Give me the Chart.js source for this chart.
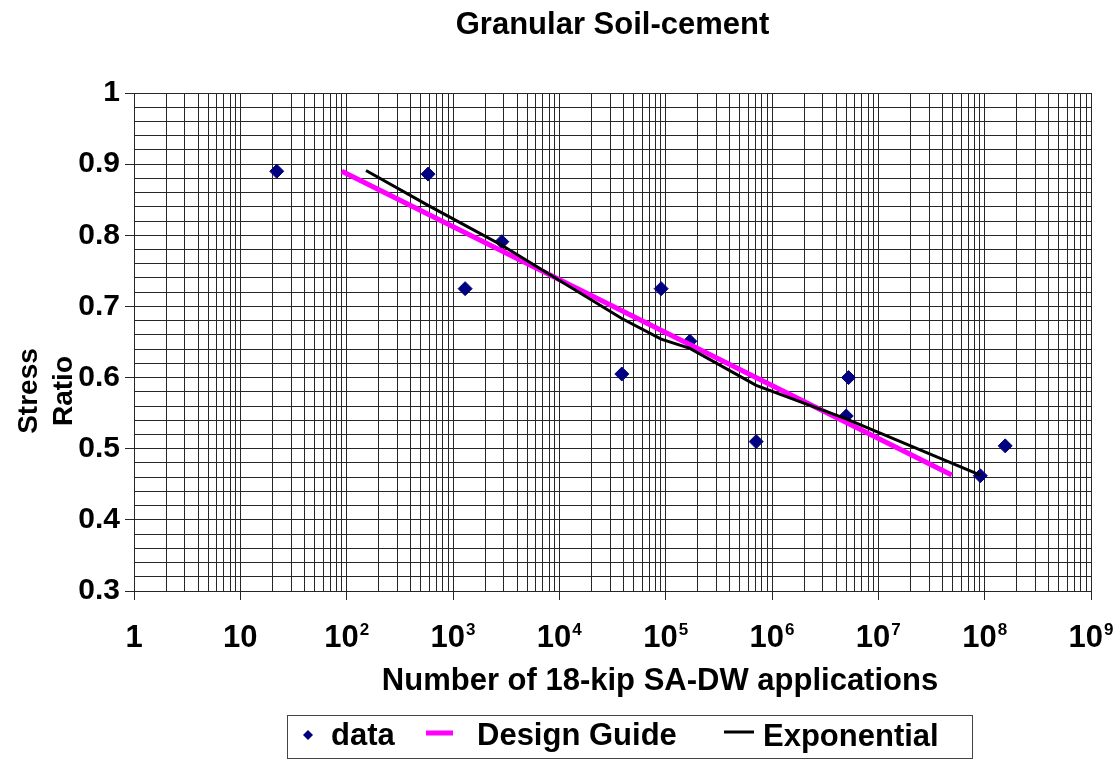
<!DOCTYPE html>
<html lang="en">
<head>
    <meta charset="UTF-8">
    <title>Granular Soil-cement</title>
    <script src="https://cdn.jsdelivr.net/npm/chart.js"></script>
    <style>
        html, body { margin: 0; padding: 0; background: #fff; }
        .chart-box { width: 1116px; height: 760px; }
    </style>
</head>
<body>
    <div class="chart-box">
        <canvas id="soilChart" width="1116" height="760"></canvas>
    </div>

    <script>
        // Fatigue test results: applications to failure vs stress ratio
        const dataApps  = [22, 583, 1300, 2880, 38700, 90700, 169000, 710000, 4990000, 5250000, 91000000, 156000000];
        const dataRatio = [0.890, 0.886, 0.725, 0.791, 0.605, 0.725, 0.651, 0.510, 0.546, 0.600, 0.462, 0.504];

        // Design guide relation (straight on the semi-log grid)
        const guideApps  = [90, 49000000];
        const guideRatio = [0.890, 0.463];

        // Exponential trend evaluated at the test points
        const expApps  = [152, 583, 1300, 2880, 38700, 90700, 169000, 710000, 4990000, 91000000];
        const expRatio = [0.891, 0.842, 0.814, 0.786, 0.683, 0.654, 0.641, 0.589, 0.542, 0.463];

        // x axis labels: base and superscript exponent for each decade
        const decadeBase = ['1', '10', '10', '10', '10', '10', '10', '10', '10', '10'];
        const decadeExp  = ['', '', '2', '3', '4', '5', '6', '7', '8', '9'];

        const family = 'Arial, "Liberation Sans", sans-serif';
        const gridColor = '#262626';

        const toPoints = (xs, ys) => xs.map((x, i) => ({ x: x, y: ys[i] }));

        function isDecade(v) {
            const e = Math.round(Math.log10(v));
            return Math.abs(v - Math.pow(10, e)) < 1e-6;
        }
        function isTenth(v) {
            return Math.round(v * 100) % 10 === 0;
        }

        // decade labels with raised exponents
        const powerLabels = {
            id: 'powerLabels',
            afterDraw(chart) {
                const { ctx } = chart;
                const xs = chart.scales.x;
                ctx.save();
                ctx.fillStyle = '#000';
                ctx.textAlign = 'left';
                ctx.textBaseline = 'alphabetic';
                decadeBase.forEach((base, e) => {
                    const px = xs.getPixelForValue(Math.pow(10, e));
                    ctx.font = 'bold 31px ' + family;
                    const wb = ctx.measureText(base).width;
                    ctx.font = 'bold 17px ' + family;
                    const ws = decadeExp[e] ? ctx.measureText(decadeExp[e]).width + 1 : 0;
                    const x0 = px - (wb + ws) / 2;
                    ctx.font = 'bold 31px ' + family;
                    ctx.fillText(base, x0, 647);
                    if (decadeExp[e]) {
                        ctx.font = 'bold 17px ' + family;
                        ctx.fillText(decadeExp[e], x0 + wb + 1, 635);
                    }
                });
                ctx.restore();
            }
        };

        // titles and boxed legend
        const chartText = {
            id: 'chartText',
            afterDraw(chart) {
                const { ctx, chartArea } = chart;
                const sets = chart.data.datasets;
                ctx.save();
                ctx.fillStyle = '#000';
                ctx.textBaseline = 'alphabetic';

                ctx.textAlign = 'center';
                ctx.font = 'bold 31px ' + family;
                ctx.fillText('Granular Soil-cement', (chartArea.left + chartArea.right) / 2, 34);
                ctx.fillText('Number of 18-kip SA-DW applications', 660, 690);

                ctx.font = 'bold 28px ' + family;
                [['Stress', 37], ['Ratio', 72]].forEach(([txt, bx]) => {
                    ctx.save();
                    ctx.translate(bx, 391);
                    ctx.rotate(-Math.PI / 2);
                    ctx.fillText(txt, 0, 0);
                    ctx.restore();
                });

                // legend
                ctx.strokeStyle = '#444';
                ctx.lineWidth = 1;
                ctx.strokeRect(287.5, 715.5, 685, 43);

                ctx.fillStyle = sets[0].backgroundColor;
                ctx.beginPath();
                ctx.moveTo(308, 730);
                ctx.lineTo(313, 735);
                ctx.lineTo(308, 740);
                ctx.lineTo(303, 735);
                ctx.closePath();
                ctx.fill();

                ctx.fillStyle = sets[1].borderColor;
                ctx.fillRect(426, 730.5, 27, 5);
                ctx.fillStyle = sets[2].borderColor;
                ctx.fillRect(724, 730.5, 30, 3);

                ctx.fillStyle = '#000';
                ctx.textAlign = 'left';
                ctx.font = 'bold 31px ' + family;
                ctx.fillText(sets[0].label, 331, 745);
                ctx.fillText(sets[1].label, 477, 745);
                ctx.fillText(sets[2].label, 763, 746);
                ctx.restore();
            }
        };

        const ctx = document.getElementById('soilChart').getContext('2d');
        new Chart(ctx, {
            type: 'scatter',
            data: {
                datasets: [
                    {
                        label: 'data',
                        data: toPoints(dataApps, dataRatio),
                        pointStyle: 'rectRot',
                        pointRadius: 7,
                        backgroundColor: '#000080',
                        borderColor: '#000080',
                        borderWidth: 1,
                        order: 3
                    },
                    {
                        label: 'Design Guide',
                        data: toPoints(guideApps, guideRatio),
                        showLine: true,
                        borderColor: '#ff00ff',
                        borderWidth: 5,
                        pointRadius: 0,
                        order: 2
                    },
                    {
                        label: 'Exponential',
                        data: toPoints(expApps, expRatio),
                        showLine: true,
                        borderColor: '#000000',
                        borderWidth: 3,
                        pointRadius: 0,
                        order: 1
                    }
                ]
            },
            options: {
                responsive: false,
                animation: false,
                devicePixelRatio: 1,
                layout: { padding: { top: 93, right: 25, left: 0, bottom: 0 } },
                plugins: {
                    legend: { display: false },
                    title: { display: false },
                    tooltip: { enabled: false }
                },
                scales: {
                    x: {
                        type: 'logarithmic',
                        min: 1,
                        max: 1e9,
                        afterBuildTicks: scale => {
                            const ticks = [];
                            for (let e = 0; e < 9; e++) {
                                for (let m = 1; m < 10; m++) ticks.push({ value: m * Math.pow(10, e) });
                            }
                            ticks.push({ value: 1e9 });
                            scale.ticks = ticks;
                        },
                        afterFit: scale => {
                            scale.height = 169;
                            scale.paddingLeft = 0;
                            scale.paddingRight = 0;
                        },
                        ticks: {
                            autoSkip: false,
                            maxRotation: 0,
                            callback: () => ''
                        },
                        grid: {
                            color: gridColor,
                            lineWidth: 1,
                            tickLength: 9,
                            tickColor: c => (c.tick && isDecade(c.tick.value)) ? gridColor : 'rgba(0,0,0,0)'
                        },
                        border: { color: gridColor }
                    },
                    y: {
                        min: 0.3,
                        max: 1,
                        afterBuildTicks: scale => {
                            const ticks = [];
                            for (let i = 15; i <= 50; i++) ticks.push({ value: i / 50 });
                            scale.ticks = ticks;
                        },
                        afterFit: scale => { scale.width = 134; },
                        ticks: {
                            autoSkip: false,
                            padding: 5,
                            color: '#000',
                            font: { family: family, size: 30, weight: 'bold' },
                            callback: v => isTenth(v) ? (Math.round(v * 10) === 10 ? '1' : v.toFixed(1)) : ''
                        },
                        grid: {
                            color: gridColor,
                            lineWidth: 1,
                            tickLength: 9,
                            tickColor: c => (c.tick && isTenth(c.tick.value)) ? gridColor : 'rgba(0,0,0,0)'
                        },
                        border: { color: gridColor }
                    }
                }
            },
            plugins: [chartText, powerLabels]
        });
    </script>
</body>
</html>
